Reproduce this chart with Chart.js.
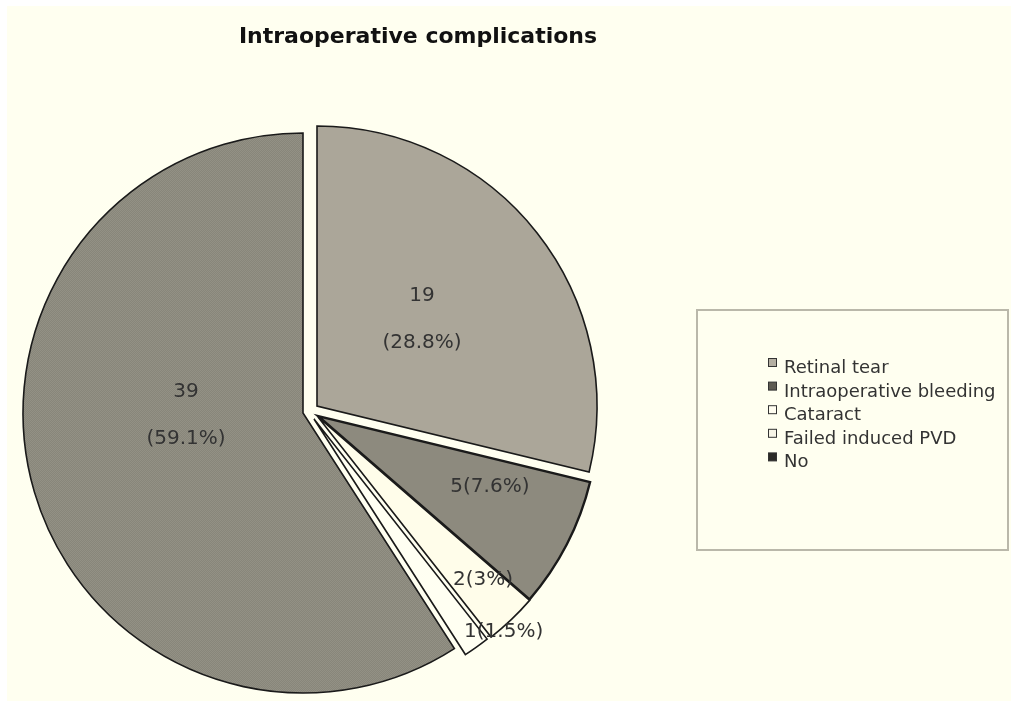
<!DOCTYPE html>
<html>
<head>
<meta charset="utf-8">
<title>Intraoperative complications</title>
<script src="https://cdn.jsdelivr.net/npm/chart.js@4/dist/chart.umd.min.js"></script>
<style>
  html, body { margin: 0; padding: 0; background: #ffffff; }
  #wrap { width: 1011px; height: 701px; position: relative; }
  canvas { display: block; }
</style>
</head>
<body>
<div id="wrap"><canvas id="pie" width="1011" height="701"></canvas></div>
<script>
// Complication categories and number of eyes in each
const categories = ['Retinal tear', 'Intraoperative bleeding', 'Cataract', 'Failed induced PVD', 'No'];
const counts = [19, 5, 2, 1, 39];
const chartTitle = 'Intraoperative complications';

// ---- styling ----
const BG = '#fffff0';
const EDGE = '#1a1a1a';
const TEXT = '#333333';

// fine dither used on the large "No" sector
function ditherPattern(a, b) {
  const c = document.createElement('canvas');
  c.width = 2; c.height = 2;
  const g = c.getContext('2d');
  g.fillStyle = a; g.fillRect(0, 0, 2, 2);
  g.fillStyle = b; g.fillRect(0, 0, 1, 1); g.fillRect(1, 1, 1, 1);
  return g.createPattern(c, 'repeat');
}
const sliceFills = ['#aba699', '#8d8a7e', '#fffdea', '#fffff2', ditherPattern('#88867a', '#939185')];
const sliceEdges = [1.6, 2.4, 1.6, 1.6, 1.6];
const swatchFills = ['#b4afa2', '#5e5b52', '#fffdf0', '#f6f4e6', '#2b2a26'];

// pulled-out sectors: translation of each sector (px)
const explode = [[14, -7], [15, 3], [15, 4], [11, 6], [0, 0]];
// label anchors: direction (deg, clockwise from 12 o'clock) and distance as a share of the radius
const labelAnchor = [
  { deg: 50.5, r: 0.486, split: true },
  { deg: 112.4, r: 0.664, split: false },
  { deg: 134.7, r: 0.829, split: false },
  { deg: 138.3, r: 1.018, split: false },
  { deg: 268.8, r: 0.418, split: true }
];

const total = counts.reduce((s, v) => s + v, 0);
const pct = v => parseFloat((v / total * 100).toFixed(1));

const backdrop = {
  id: 'backdrop',
  beforeDraw(chart) {
    const ctx = chart.ctx;
    ctx.save();
    ctx.fillStyle = '#ffffff';
    ctx.fillRect(0, 0, chart.width, chart.height);
    ctx.fillStyle = BG;
    ctx.fillRect(7, 6, chart.width - 7, chart.height - 6);
    ctx.restore();
  }
};

// draw each sector shifted by its own pull-out vector
const pulledSectors = {
  id: 'pulledSectors',
  beforeDatasetDraw(chart, args) {
    const ctx = chart.ctx;
    args.meta.data.forEach((arc, i) => {
      const [dx, dy] = explode[i];
      ctx.save();
      ctx.translate(dx, dy);
      arc.draw(ctx, chart.chartArea);
      ctx.restore();
    });
    return false;
  }
};

const annotations = {
  id: 'annotations',
  afterDraw(chart) {
    const ctx = chart.ctx;
    const meta = chart.getDatasetMeta(0);
    ctx.save();

    // sector value labels
    ctx.fillStyle = TEXT;
    ctx.font = '20px "DejaVu Sans"';
    ctx.textAlign = 'center';
    ctx.textBaseline = 'middle';
    meta.data.forEach((arc, i) => {
      const p = arc.getProps(['x', 'y', 'outerRadius'], true);
      const a = labelAnchor[i];
      const t = a.deg * Math.PI / 180;
      const cx = p.x + explode[i][0] + Math.sin(t) * a.r * p.outerRadius;
      const cy = p.y + explode[i][1] - Math.cos(t) * a.r * p.outerRadius;
      const v = counts[i];
      if (a.split) {
        ctx.fillText(String(v), cx, cy - 23.5);
        ctx.fillText('(' + pct(v) + '%)', cx, cy + 23.5);
      } else {
        ctx.fillText(v + '(' + pct(v) + '%)', cx, cy);
      }
    });

    // title
    ctx.fillStyle = '#111111';
    ctx.font = 'bold 22px "DejaVu Sans"';
    ctx.textBaseline = 'alphabetic';
    ctx.fillText(chartTitle, 418, 43);

    // legend box
    ctx.strokeStyle = '#bab8aa';
    ctx.lineWidth = 2;
    ctx.strokeRect(697, 310, 311, 240);
    ctx.font = '18px "DejaVu Sans"';
    ctx.textAlign = 'left';
    categories.forEach((name, i) => {
      const base = 373 + i * 23.6;
      ctx.fillStyle = swatchFills[i];
      ctx.fillRect(768.5, base - 14.5, 8, 8);
      ctx.strokeStyle = '#333333';
      ctx.lineWidth = 1;
      ctx.strokeRect(768.5, base - 14.5, 8, 8);
      ctx.fillStyle = TEXT;
      ctx.fillText(name, 784, base);
    });
    ctx.restore();
  }
};

new Chart(document.getElementById('pie'), {
  type: 'pie',
  data: {
    labels: categories,
    datasets: [{
      data: counts,
      backgroundColor: sliceFills,
      borderColor: EDGE,
      borderWidth: sliceEdges,
      borderJoinStyle: 'miter',
      radius: 280
    }]
  },
  options: {
    responsive: false,
    animation: false,
    devicePixelRatio: 1,
    layout: { padding: { left: 0, right: 405, top: 126, bottom: 1 } },
    plugins: {
      legend: { display: false },
      title: { display: false },
      tooltip: { enabled: false }
    }
  },
  plugins: [backdrop, pulledSectors, annotations]
});
</script>
</body>
</html>
